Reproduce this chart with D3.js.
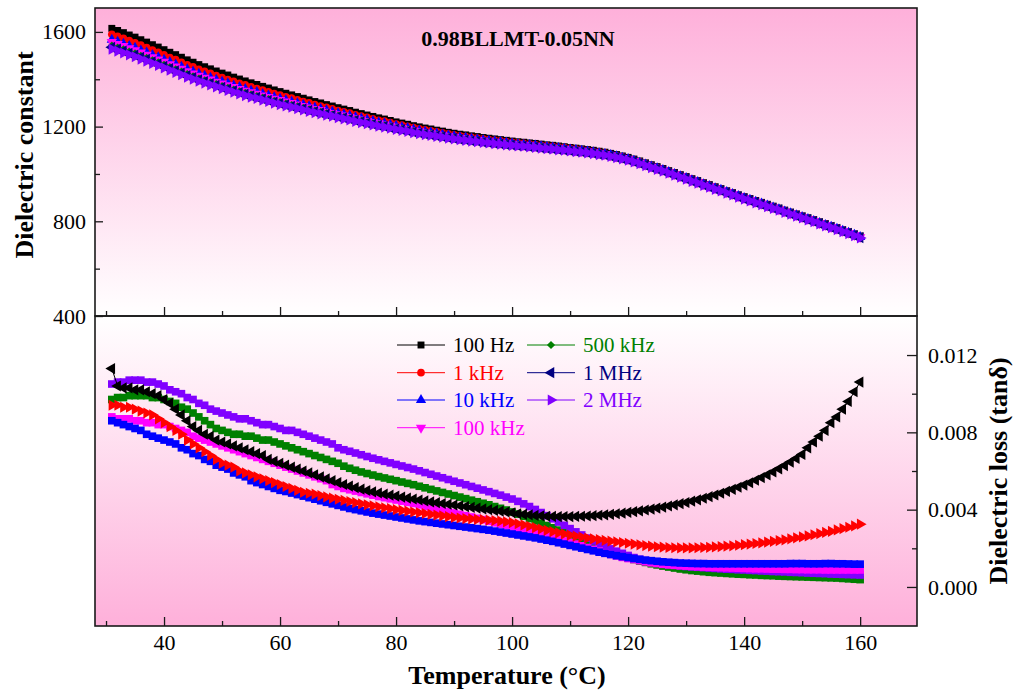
<!DOCTYPE html>
<html>
<head>
<meta charset="utf-8">
<script src="https://cdn.jsdelivr.net/npm/d3@7"></script>
<style>
  body { margin: 0; background: #fff; }
  svg { display: block; font-family: "Liberation Serif", "Times New Roman", serif; }
</style>
</head>
<body>
<svg id="chart" width="1017" height="698"></svg>
<script>
// temperature points (°C)
const temperature = [
  31,32,33,34,35,36,37,38,39,40,
  41,42,43,44,45,46,47,48,49,50,
  51,52,53,54,55,56,57,58,59,60,
  61,62,63,64,65,66,67,68,69,70,
  71,72,73,74,75,76,77,78,79,80,
  81,82,83,84,85,86,87,88,89,90,
  91,92,93,94,95,96,97,98,99,100,
  101,102,103,104,105,106,107,108,109,110,
  111,112,113,114,115,116,117,118,119,120,
  121,122,123,124,125,126,127,128,129,130,
  131,132,133,134,135,136,137,138,139,140,
  141,142,143,144,145,146,147,148,149,150,
  151,152,153,154,155,156,157,158,159,160
];

// ---- dielectric constant
const eps100Hz = [
  1615,1606,1597,1587,1578,1567,1557,1546,1536,1525,
  1514,1504,1493,1482,1472,1462,1453,1444,1435,1426,
  1418,1409,1401,1393,1385,1378,1370,1363,1355,1348,
  1341,1334,1327,1320,1313,1306,1300,1293,1287,1280,
  1274,1268,1261,1255,1249,1243,1237,1232,1226,1220,
  1215,1210,1204,1199,1194,1190,1185,1181,1176,1172,
  1168,1165,1161,1158,1154,1151,1148,1145,1142,1139,
  1136,1134,1131,1129,1126,1123,1121,1118,1115,1112,
  1109,1106,1103,1100,1096,1092,1087,1082,1076,1070,
  1063,1055,1047,1039,1031,1023,1014,1006,997,989,
  980,972,963,955,946,938,929,921,912,904,
  896,888,880,872,864,856,847,839,831,823,
  815,807,798,790,782,773,764,756,747,738
];
const eps1kHz = [
  1590,1581,1573,1563,1554,1544,1534,1523,1514,1503,
  1492,1483,1472,1461,1452,1442,1433,1425,1416,1407,
  1399,1391,1383,1376,1368,1361,1354,1347,1340,1333,
  1326,1320,1313,1306,1300,1293,1287,1281,1275,1268,
  1262,1257,1250,1244,1239,1233,1227,1223,1217,1211,
  1206,1201,1196,1191,1186,1182,1178,1174,1169,1165,
  1161,1158,1155,1152,1148,1145,1142,1140,1137,1134,
  1131,1129,1126,1124,1121,1119,1117,1114,1111,1108,
  1105,1102,1099,1096,1092,1088,1083,1078,1072,1066,
  1059,1051,1043,1035,1027,1020,1011,1003,994,986,
  977,969,960,952,943,935,926,918,909,901,
  893,885,877,869,861,854,845,837,829,821,
  813,805,796,788,780,771,762,754,745,736
];
const eps10kHz = [
  1567,1559,1550,1541,1533,1522,1513,1503,1493,1483,
  1473,1463,1453,1442,1433,1424,1415,1407,1398,1390,
  1383,1374,1367,1359,1352,1346,1338,1332,1324,1318,
  1312,1305,1299,1293,1286,1280,1275,1269,1263,1257,
  1252,1246,1240,1234,1229,1224,1218,1214,1208,1203,
  1198,1194,1188,1184,1179,1175,1171,1167,1163,1159,
  1155,1153,1149,1146,1143,1140,1137,1135,1132,1129,
  1126,1124,1122,1120,1117,1114,1112,1110,1107,1104,
  1101,1098,1095,1092,1088,1085,1080,1075,1069,1063,
  1056,1048,1040,1032,1024,1017,1008,1000,991,983,
  974,966,957,949,940,933,924,916,907,899,
  891,883,875,867,859,851,842,834,826,818,
  810,802,793,785,777,769,760,752,743,734
];
const eps100kHz = [
  1557,1549,1541,1531,1523,1513,1504,1493,1484,1474,
  1464,1454,1444,1434,1424,1415,1407,1399,1390,1382,
  1375,1367,1359,1352,1345,1339,1332,1325,1318,1312,
  1306,1300,1293,1287,1281,1275,1270,1263,1258,1252,
  1247,1241,1235,1230,1224,1219,1214,1209,1204,1199,
  1194,1190,1184,1180,1175,1172,1167,1164,1159,1156,
  1152,1150,1146,1144,1140,1137,1135,1132,1130,1127,
  1124,1122,1120,1118,1115,1112,1110,1108,1105,1102,
  1099,1096,1094,1091,1087,1083,1078,1074,1068,1062,
  1055,1047,1039,1031,1023,1016,1007,999,990,982,
  973,965,956,948,939,932,923,915,906,898,
  890,882,874,866,858,850,841,833,825,817,
  809,801,792,784,776,768,759,751,742,733
];
const eps500kHz = [
  1542,1534,1526,1517,1509,1499,1490,1480,1471,1461,
  1451,1442,1432,1422,1412,1403,1395,1387,1379,1371,
  1364,1356,1349,1342,1335,1329,1322,1316,1309,1303,
  1297,1291,1285,1279,1273,1267,1262,1256,1251,1245,
  1240,1235,1229,1224,1218,1213,1208,1204,1199,1194,
  1190,1185,1180,1175,1171,1168,1163,1160,1155,1152,
  1148,1146,1142,1140,1136,1134,1131,1129,1126,1124,
  1121,1120,1117,1115,1113,1110,1108,1106,1103,1100,
  1097,1094,1092,1089,1085,1081,1076,1072,1066,1060,
  1053,1045,1037,1029,1021,1014,1005,997,988,980,
  971,963,954,946,937,930,921,913,904,896,
  888,880,872,864,856,849,840,832,824,816,
  808,800,791,783,775,766,757,749,740,731
];
const eps1MHz = [
  1535,1527,1519,1510,1502,1493,1484,1474,1465,1455,
  1445,1436,1426,1416,1407,1398,1390,1382,1374,1366,
  1359,1351,1344,1337,1330,1324,1317,1311,1304,1298,
  1292,1286,1281,1275,1269,1263,1258,1253,1248,1242,
  1237,1232,1226,1221,1215,1210,1205,1201,1196,1191,
  1187,1182,1177,1173,1168,1165,1161,1158,1153,1150,
  1146,1144,1140,1138,1134,1132,1129,1127,1124,1122,
  1119,1118,1115,1113,1110,1108,1106,1103,1101,1098,
  1095,1093,1090,1087,1083,1080,1075,1070,1065,1059,
  1052,1044,1036,1028,1020,1013,1004,996,987,979,
  970,962,953,945,936,929,920,912,903,895,
  887,879,871,863,855,848,839,831,823,815,
  807,799,790,782,774,766,757,749,740,731
];
const eps2MHz = [
  1527,1519,1511,1503,1495,1485,1476,1467,1458,1448,
  1438,1429,1419,1409,1400,1392,1384,1376,1368,1360,
  1353,1345,1338,1331,1324,1319,1312,1306,1299,1293,
  1287,1282,1276,1270,1264,1259,1254,1248,1244,1238,
  1233,1228,1222,1217,1212,1207,1202,1198,1193,1188,
  1184,1180,1174,1170,1166,1163,1159,1155,1151,1148,
  1145,1142,1139,1136,1133,1131,1128,1126,1123,1121,
  1118,1117,1114,1112,1109,1107,1105,1102,1100,1097,
  1094,1092,1089,1086,1082,1079,1074,1069,1064,1058,
  1051,1043,1035,1027,1019,1012,1003,995,986,978,
  969,961,952,944,935,928,919,911,902,894,
  886,878,870,862,854,847,838,830,822,814,
  806,798,789,781,773,765,756,748,739,730
];

// ---- dielectric loss (tan delta)
const loss100Hz = [
  0.0113,0.0104,0.0103,0.0103,0.0102,0.0102,0.0101,0.0100,0.0099,0.0097,
  0.0095,0.0092,0.0089,0.0086,0.0083,0.0081,0.0079,0.0078,0.0076,0.0075,
  0.0074,0.0073,0.0072,0.0071,0.0070,0.0069,0.0068,0.0066,0.0065,0.0064,
  0.0063,0.0062,0.0061,0.0060,0.0059,0.0058,0.0057,0.0056,0.0055,0.0054,
  0.0053,0.00522,0.00514,0.00506,0.00499,0.00492,0.00486,0.0048,0.00475,0.0047,
  0.00465,0.0046,0.00455,0.0045,0.00445,0.0044,0.00436,0.00432,0.00428,0.00424,
  0.0042,0.00416,0.00412,0.00408,0.00404,0.004,0.00396,0.00392,0.00388,0.00384,
  0.00379,0.00376,0.00373,0.0037,0.00368,0.00366,0.00365,0.00364,0.00364,0.00364,
  0.00365,0.00366,0.00367,0.00369,0.00371,0.00373,0.00376,0.00379,0.00382,0.00386,
  0.0039,0.00394,0.00398,0.00403,0.00408,0.00413,0.00419,0.00425,0.00431,0.00437,
  0.00444,0.00451,0.00459,0.00467,0.00476,0.00485,0.00495,0.00505,0.00516,0.00527,
  0.00539,0.00552,0.00566,0.0058,0.00595,0.00611,0.00628,0.00646,0.00665,0.00686,
  0.0072,0.0075,0.0078,0.0081,0.0085,0.0088,0.0092,0.0096,0.0101,0.0106
];
const loss1kHz = [
  0.0094,0.0094,0.0093,0.0093,0.0092,0.0091,0.0090,0.0089,0.0087,0.0085,
  0.0083,0.0081,0.0079,0.0076,0.0074,0.0072,0.0070,0.0068,0.0066,0.0064,
  0.0063,0.0062,0.0060,0.0059,0.0058,0.0057,0.0056,0.0055,0.0054,0.0053,
  0.0052,0.0051,0.0050,0.0049,0.00485,0.0048,0.00473,0.00466,0.0046,0.00454,
  0.00448,0.00442,0.00436,0.0043,0.00425,0.0042,0.00415,0.0041,0.00405,0.004,
  0.00396,0.00392,0.00388,0.00384,0.0038,0.00376,0.00372,0.00368,0.00364,0.0036,
  0.00357,0.00354,0.00352,0.0035,0.00348,0.00346,0.00344,0.00341,0.00337,0.00333,
  0.00327,0.00321,0.00314,0.00307,0.003,0.00293,0.00286,0.0028,0.00274,0.00268,
  0.00263,0.00258,0.00253,0.00249,0.00245,0.00241,0.00237,0.00233,0.0023,0.00226,
  0.00222,0.00218,0.00214,0.00211,0.00208,0.00206,0.00204,0.00203,0.00202,0.00202,
  0.00202,0.00203,0.00204,0.00205,0.00207,0.00209,0.00211,0.00213,0.00216,0.00219,
  0.00222,0.00225,0.00228,0.00232,0.00236,0.0024,0.00244,0.00249,0.00254,0.00259,
  0.00264,0.0027,0.00276,0.00282,0.00288,0.00295,0.00302,0.00309,0.00316,0.00325
];
const loss10kHz = [
  0.0086,0.0085,0.0084,0.0083,0.0082,0.0081,0.0079,0.0078,0.0077,0.0076,
  0.0075,0.0074,0.0072,0.0071,0.0069,0.0068,0.0066,0.0065,0.0063,0.0062,
  0.0061,0.0059,0.0058,0.0057,0.0055,0.0054,0.0053,0.0052,0.0051,0.0050,
  0.00494,0.00486,0.00478,0.0047,0.00462,0.00454,0.00446,0.00438,0.0043,0.00422,
  0.00414,0.00406,0.004,0.00394,0.00388,0.00382,0.00377,0.00372,0.00367,0.00362,
  0.00357,0.00352,0.00347,0.00342,0.00338,0.00334,0.0033,0.00326,0.00322,0.00318,
  0.00314,0.0031,0.00306,0.00302,0.00298,0.00294,0.00289,0.00284,0.00279,0.00274,
  0.00269,0.00264,0.00259,0.00254,0.00248,0.00242,0.00236,0.00229,0.00222,0.00215,
  0.00208,0.00201,0.00194,0.00187,0.0018,0.00174,0.00168,0.00162,0.00157,0.00152,
  0.00147,0.00143,0.00139,0.00136,0.00133,0.0013,0.00128,0.00126,0.00124,0.00123,
  0.00122,0.00121,0.00121,0.0012,0.0012,0.0012,0.0012,0.0012,0.0012,0.0012,
  0.0012,0.0012,0.0012,0.0012,0.0012,0.0012,0.0012,0.00121,0.00121,0.00121,
  0.0012,0.0012,0.0012,0.00121,0.00121,0.0012,0.0012,0.00119,0.00118,0.00118
];
const loss100kHz = [
  0.0088,0.0087,0.0087,0.0087,0.0086,0.0086,0.0085,0.0085,0.0084,0.0084,
  0.0083,0.0082,0.0081,0.0080,0.0078,0.0077,0.0076,0.0075,0.0074,0.0073,
  0.0072,0.0071,0.0070,0.0069,0.0068,0.0067,0.0066,0.0065,0.0064,0.0063,
  0.0062,0.0061,0.0060,0.0059,0.0058,0.0057,0.0056,0.0055,0.0053,0.0052,
  0.0051,0.00503,0.00496,0.00489,0.00482,0.00475,0.00468,0.00462,0.00456,0.0045,
  0.00444,0.00438,0.00432,0.00425,0.00418,0.00411,0.00404,0.00397,0.0039,0.00383,
  0.00376,0.00369,0.00362,0.00355,0.00348,0.0034,0.00332,0.00324,0.00317,0.0031,
  0.00302,0.00294,0.00286,0.00278,0.0027,0.00262,0.00254,0.00246,0.00238,0.0023,
  0.00222,0.00213,0.00204,0.00195,0.00186,0.00177,0.00168,0.0016,0.00153,0.00147,
  0.00142,0.00136,0.0013,0.00125,0.00121,0.00117,0.00114,0.00112,0.0011,0.00108,
  0.00106,0.00105,0.00103,0.00102,0.00101,0.001,0.00099,0.00098,0.00097,0.00096,
  0.00095,0.00094,0.00094,0.00093,0.00092,0.00092,0.00091,0.00091,0.0009,0.0009,
  0.00089,0.00089,0.00089,0.00088,0.00088,0.00088,0.00088,0.00088,0.00088,0.00088
];
const loss500kHz = [
  0.0097,0.0098,0.0098,0.0099,0.0099,0.0099,0.0099,0.0098,0.0098,0.0097,
  0.0096,0.0095,0.0093,0.0092,0.0090,0.0088,0.0086,0.0084,0.0082,0.0081,
  0.0080,0.0079,0.0079,0.0078,0.0078,0.0077,0.0076,0.0076,0.0075,0.0074,
  0.0073,0.0072,0.0071,0.0070,0.0069,0.0068,0.0067,0.0066,0.0065,0.0064,
  0.00625,0.00614,0.00604,0.00595,0.00587,0.00579,0.00571,0.00564,0.00557,0.0055,
  0.00543,0.00536,0.00529,0.00521,0.00513,0.00505,0.00497,0.00489,0.00481,0.00473,
  0.00465,0.00457,0.00449,0.00441,0.00433,0.00425,0.00416,0.00407,0.00398,0.00388,
  0.00377,0.00366,0.00354,0.00342,0.0033,0.00318,0.00306,0.00294,0.00282,0.00269,
  0.00256,0.00243,0.0023,0.00217,0.00205,0.00193,0.00181,0.0017,0.0016,0.00151,
  0.00142,0.00134,0.00127,0.0012,0.00114,0.00108,0.00103,0.00098,0.00093,0.00089,
  0.00085,0.00082,0.00079,0.00076,0.00074,0.00072,0.0007,0.00068,0.00066,0.00065,
  0.00063,0.00062,0.0006,0.00059,0.00058,0.00056,0.00055,0.00054,0.00053,0.00052,
  0.00051,0.0005,0.00049,0.00048,0.00047,0.00046,0.00044,0.00042,0.0004,0.00038
];
const loss2MHz = [
  0.0105,0.0106,0.0106,0.0107,0.0107,0.0107,0.0106,0.0106,0.0105,0.0104,
  0.0102,0.0101,0.0100,0.0098,0.0097,0.0095,0.0094,0.0092,0.0091,0.0090,
  0.0089,0.0088,0.0087,0.0087,0.0086,0.0085,0.0084,0.0084,0.0083,0.0082,
  0.0081,0.0081,0.0080,0.0079,0.0078,0.0077,0.0076,0.0075,0.0074,0.0072,
  0.0071,0.00702,0.00693,0.00684,0.00675,0.00666,0.00658,0.0065,0.00642,0.00634,
  0.00626,0.00618,0.0061,0.00601,0.00592,0.00583,0.00574,0.00565,0.00556,0.00547,
  0.00538,0.00529,0.0052,0.00511,0.00502,0.00493,0.00484,0.00475,0.00465,0.00455,
  0.00443,0.0043,0.00416,0.00401,0.00385,0.00369,0.00353,0.00336,0.00319,0.00302,
  0.00285,0.00269,0.00253,0.00238,0.00224,0.0021,0.00197,0.00185,0.00174,0.00163,
  0.00152,0.00143,0.00136,0.0013,0.00125,0.0012,0.00116,0.00112,0.00109,0.00106,
  0.00104,0.00102,0.001,0.00098,0.00096,0.00094,0.00092,0.00091,0.00089,0.00088,
  0.00086,0.00085,0.00083,0.00082,0.0008,0.00079,0.00078,0.00076,0.00075,0.00074,
  0.00072,0.00071,0.0007,0.00069,0.00067,0.00066,0.00065,0.00064,0.00063,0.00062
];

// ---- ticks and labels
const xMajor = [40, 60, 80, 100, 120, 140, 160];
const xMinor = [30, 50, 70, 90, 110, 130, 150];
const epsMajor = [400, 800, 1200, 1600];
const epsMinor = [600, 1000, 1400];
const lossMajor = [0, 0.004, 0.008, 0.012];
const lossMinor = [0.002, 0.006, 0.010];
const sampleName = '0.98BLLMT-0.05NN';

const pink = '#feb0da';
const axisColor = '#1a1a1a';

const svg = d3.select('#chart');

// ---- Escalas
const x = d3.scaleLinear().domain([28.1, 169.8]).range([95, 917]);
const yEps = d3.scaleLinear().domain([400, 1701]).range([316, 8]);
const yLoss = d3.scaleLinear().domain([-0.00202, 0.01402]).range([626, 316]);

const symbols = {
    square: { type: d3.symbolSquare, size: 48, rotate: 0 },
    bigSquare: { type: d3.symbolSquare, size: 58, rotate: 0 },
    circle: { type: d3.symbolCircle, size: 46, rotate: 0 },
    up: { type: d3.symbolTriangle, size: 46, rotate: 0 },
    down: { type: d3.symbolTriangle, size: 46, rotate: 180 },
    diamond: { type: d3.symbolSquare, size: 34, rotate: 45 },
    left: { type: d3.symbolTriangle, size: 54, rotate: -90 },
    right: { type: d3.symbolTriangle, size: 54, rotate: 90 }
};

const epsSeries = [
    { name: '100 Hz', color: '#000000', shape: 'square', values: eps100Hz },
    { name: '1 kHz', color: '#ff0000', shape: 'circle', values: eps1kHz },
    { name: '10 kHz', color: '#0000ff', shape: 'up', values: eps10kHz },
    { name: '100 kHz', color: '#ff00ff', shape: 'down', values: eps100kHz },
    { name: '500 kHz', color: '#008000', shape: 'diamond', values: eps500kHz },
    { name: '1 MHz', color: '#000080', shape: 'left', values: eps1MHz },
    { name: '2 MHz', color: '#8000ff', shape: 'right', values: eps2MHz }
];

// loss panel drawn with its own marker styles (back to front)
const lossSeries = [
    { color: '#008000', shape: 'bigSquare', values: loss500kHz },
    { color: '#8000ff', shape: 'bigSquare', values: loss2MHz },
    { color: '#ff00ff', shape: 'bigSquare', values: loss100kHz },
    { color: '#0000ff', shape: 'bigSquare', values: loss10kHz },
    { color: '#ff0000', shape: 'right', values: loss1kHz },
    { color: '#000000', shape: 'left', values: loss100Hz }
];

// ---- fundos em gradiente
const defs = svg.append('defs');
const gTop = defs.append('linearGradient').attr('id', 'gradTop')
    .attr('x1', 0).attr('y1', 0).attr('x2', 0).attr('y2', 1);
gTop.append('stop').attr('offset', '0%').attr('stop-color', pink);
gTop.append('stop').attr('offset', '100%').attr('stop-color', '#ffffff');
const gBot = defs.append('linearGradient').attr('id', 'gradBot')
    .attr('x1', 0).attr('y1', 0).attr('x2', 0).attr('y2', 1);
gBot.append('stop').attr('offset', '0%').attr('stop-color', '#ffffff');
gBot.append('stop').attr('offset', '100%').attr('stop-color', pink);

svg.append('rect').attr('x', x.range()[0]).attr('y', yEps.range()[1])
    .attr('width', x.range()[1] - x.range()[0]).attr('height', yEps.range()[0] - yEps.range()[1])
    .attr('fill', 'url(#gradTop)');
svg.append('rect').attr('x', x.range()[0]).attr('y', yLoss.range()[1])
    .attr('width', x.range()[1] - x.range()[0]).attr('height', yLoss.range()[0] - yLoss.range()[1])
    .attr('fill', 'url(#gradBot)');

// ---- Séries
function drawSeries(series, yScale) {
    const group = svg.append('g');
    series.forEach(s => {
        const pts = temperature.map((t, i) => [t, s.values[i]]);
        group.append('path')
            .datum(pts)
            .attr('fill', 'none')
            .attr('stroke', s.color)
            .attr('stroke-width', 1)
            .attr('d', d3.line().x(d => x(d[0])).y(d => yScale(d[1])));
        const sym = symbols[s.shape];
        group.append('g')
            .selectAll('path')
            .data(pts)
            .join('path')
            .attr('transform', d => `translate(${x(d[0])},${yScale(d[1])}) rotate(${sym.rotate})`)
            .attr('d', d3.symbol(sym.type, sym.size))
            .attr('fill', s.color);
    });
}

drawSeries(epsSeries, yEps);
drawSeries(lossSeries, yLoss);

// ---- Eixos
function styleAxis(g) {
    g.select('.domain').remove();
    g.selectAll('line').attr('stroke', axisColor).attr('stroke-width', 1.3);
    g.selectAll('text')
        .style('font-family', '"Liberation Serif", "Times New Roman", serif')
        .style('font-size', '22px')
        .attr('fill', '#000');
}

// x: bottom of loss panel (labelled) and bottom of eps panel (ticks only)
svg.append('g').attr('transform', `translate(0,${yLoss.range()[0]})`)
    .call(d3.axisBottom(x).tickValues(xMajor).tickSize(-9).tickPadding(8.5).tickFormat(d3.format('d')))
    .call(styleAxis);
svg.append('g').attr('transform', `translate(0,${yLoss.range()[0]})`)
    .call(d3.axisBottom(x).tickValues(xMinor).tickSize(-5).tickFormat(''))
    .call(styleAxis);
svg.append('g').attr('transform', `translate(0,${yEps.range()[0]})`)
    .call(d3.axisBottom(x).tickValues(xMajor).tickSize(-9).tickFormat(''))
    .call(styleAxis);
svg.append('g').attr('transform', `translate(0,${yEps.range()[0]})`)
    .call(d3.axisBottom(x).tickValues(xMinor).tickSize(-5).tickFormat(''))
    .call(styleAxis);

// y: dielectric constant (left, top panel)
svg.append('g').attr('transform', `translate(${x.range()[0]},0)`)
    .call(d3.axisLeft(yEps).tickValues(epsMajor).tickSize(-8).tickPadding(9).tickFormat(d3.format('d')))
    .call(styleAxis);
svg.append('g').attr('transform', `translate(${x.range()[0]},0)`)
    .call(d3.axisLeft(yEps).tickValues(epsMinor).tickSize(-5).tickFormat(''))
    .call(styleAxis);

// y: dielectric loss (right, bottom panel)
svg.append('g').attr('transform', `translate(${x.range()[1]},0)`)
    .call(d3.axisRight(yLoss).tickValues(lossMajor).tickSize(-10).tickPadding(11).tickFormat(d3.format('.3f')))
    .call(styleAxis);
svg.append('g').attr('transform', `translate(${x.range()[1]},0)`)
    .call(d3.axisRight(yLoss).tickValues(lossMinor).tickSize(-5).tickFormat(''))
    .call(styleAxis);

// molduras
[yEps, yLoss].forEach(ys => {
    svg.append('rect')
        .attr('x', x.range()[0]).attr('y', ys.range()[1])
        .attr('width', x.range()[1] - x.range()[0]).attr('height', ys.range()[0] - ys.range()[1])
        .attr('fill', 'none').attr('stroke', axisColor).attr('stroke-width', 1.6);
});

// ---- Textos
svg.append('text')
    .attr('x', 518).attr('y', 46)
    .attr('text-anchor', 'middle')
    .style('font-size', '22px').style('font-weight', 'bold')
    .text(sampleName);

svg.append('text')
    .attr('transform', 'translate(33,155) rotate(-90)')
    .attr('text-anchor', 'middle')
    .style('font-size', '26px').style('font-weight', 'bold')
    .text('Dielectric constant');

svg.append('text')
    .attr('transform', 'translate(1007,471) rotate(-90)')
    .attr('text-anchor', 'middle')
    .style('font-size', '26px').style('font-weight', 'bold')
    .text('Dielectric loss (tanδ)');

svg.append('text')
    .attr('x', 507).attr('y', 684)
    .attr('text-anchor', 'middle')
    .style('font-size', '26px').style('font-weight', 'bold')
    .text('Temperature (°C)');

// ---- Legenda
const legendRows = [345, 372.7, 400, 427.7];
const legendCols = [397, 527];
const legend = svg.append('g');
epsSeries.forEach((s, i) => {
    const col = i < 4 ? 0 : 1;
    const row = i < 4 ? i : i - 4;
    const lx = legendCols[col];
    const ly = legendRows[row];
    const item = legend.append('g');
    item.append('line')
        .attr('x1', lx).attr('x2', lx + 48).attr('y1', ly).attr('y2', ly)
        .attr('stroke', s.color).attr('stroke-width', 1);
    const sym = symbols[s.shape];
    item.append('path')
        .attr('transform', `translate(${lx + 24},${ly}) rotate(${sym.rotate})`)
        .attr('d', d3.symbol(sym.type, sym.size))
        .attr('fill', s.color);
    item.append('text')
        .attr('x', lx + 56).attr('y', ly)
        .attr('dy', '0.35em')
        .style('font-size', '21px')
        .attr('fill', s.color)
        .text(s.name);
});
</script>
</body>
</html>
